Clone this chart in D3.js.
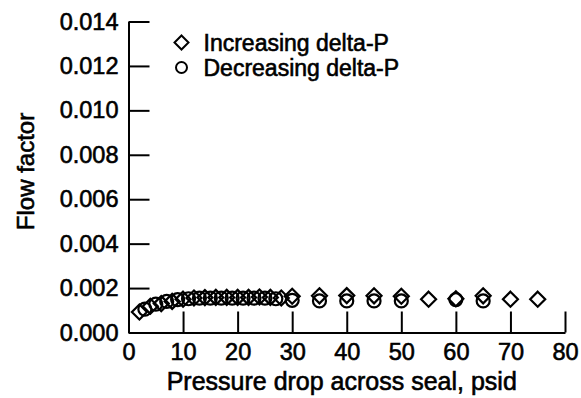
<!DOCTYPE html>
<html>
<head>
<meta charset="utf-8">
<script src="https://cdn.jsdelivr.net/npm/d3@7"></script>
<style>
  body { margin: 0; background: #fff; }
  text { font-family: "Liberation Sans", Arial, sans-serif; fill: #000; stroke: #000; stroke-width: 0.6px; }
</style>
</head>
<body>
<div id="chart"></div>
<script>
// Increasing delta-P (diamonds)
var incX = [2, 4, 6, 8, 10, 12, 14, 16, 18, 20, 22, 24, 26, 28, 30, 35, 40, 45, 50, 55, 60, 65, 70, 75];
var incY = [0.00092, 0.00118, 0.00130, 0.00140, 0.00150, 0.00155, 0.00157, 0.00158, 0.00158, 0.00158, 0.00158, 0.00160, 0.00158, 0.00155, 0.00163, 0.00165, 0.00166, 0.00165, 0.00163, 0.00150, 0.00152, 0.00165, 0.00150, 0.00150];
// Decreasing delta-P (circles)
var decX = [65, 60, 50, 45, 40, 35, 30, 27, 25, 23, 21, 19, 17, 15, 13, 11, 9, 7, 5, 3];
var decY = [0.00142, 0.00148, 0.00142, 0.00142, 0.00142, 0.00142, 0.00145, 0.00152, 0.00155, 0.00155, 0.00155, 0.00155, 0.00155, 0.00155, 0.00155, 0.00152, 0.00148, 0.00140, 0.00128, 0.00105];

var xTicks = [0, 10, 20, 30, 40, 50, 60, 70, 80];
var yTicks = [0, 0.002, 0.004, 0.006, 0.008, 0.010, 0.012, 0.014];

var W = 581, H = 398;
var margin = { top: 21.5, right: 16, bottom: 65.5, left: 128.5 },
    width = W - margin.left - margin.right,
    height = H - margin.top - margin.bottom;

var svg = d3.select('#chart').append('svg')
    .attr('width', W)
    .attr('height', H)
    .append('g')
    .attr('transform', 'translate(' + margin.left + ',' + margin.top + ')');

var x = d3.scaleLinear().domain([0, 80]).range([0, width]);
var y = d3.scaleLinear().domain([0, 0.014]).range([height, 0]);

// Axes, ticks pointing inward
var gx = svg.append('g')
    .attr('transform', 'translate(0,' + height + ')')
    .call(d3.axisBottom(x).tickValues(xTicks).tickSize(-21).tickSizeOuter(0).tickFormat(d3.format('d')));
gx.selectAll('text').attr('y', 11).style('font-size', '23.5px');

var gy = svg.append('g')
    .call(d3.axisLeft(y).tickValues(yTicks).tickSize(-21).tickSizeOuter(0).tickFormat(d3.format('.3f')));
gy.selectAll('text').attr('x', -10).style('font-size', '23.5px');

[gx, gy].forEach(function (g) {
    g.select('.domain').attr('stroke', '#000').attr('stroke-width', 2);
    g.selectAll('.tick line').attr('stroke', '#000').attr('stroke-width', 2);
    g.selectAll('text').attr('fill', '#000').style('font-family', '"Liberation Sans", Arial, sans-serif');
});

// Axis titles
svg.append('text')
    .attr('x', width / 2 - 5)
    .attr('y', height + 57)
    .style('text-anchor', 'middle')
    .style('font-size', '25px')
    .text('Pressure drop across seal, psid');

svg.append('text')
    .attr('transform', 'rotate(-90)')
    .attr('x', -150)
    .attr('y', -95)
    .style('text-anchor', 'middle')
    .style('font-size', '24px')
    .text('Flow factor');

var diamond = 'M0,-7.5L7.5,0L0,7.5L-7.5,0Z';

// Decreasing series
svg.selectAll('.dec')
    .data(decX)
    .enter().append('circle')
    .attr('class', 'dec')
    .attr('r', 6.5)
    .attr('fill', 'none')
    .attr('stroke', '#000')
    .attr('stroke-width', 2.2)
    .attr('cx', function (d) { return x(d); })
    .attr('cy', function (d, i) { return y(decY[i]); });

// Increasing series
svg.selectAll('.inc')
    .data(incX)
    .enter().append('path')
    .attr('class', 'inc')
    .attr('d', diamond)
    .attr('fill', 'none')
    .attr('stroke', '#000')
    .attr('stroke-width', 2.2)
    .attr('transform', function (d, i) { return 'translate(' + x(d) + ',' + y(incY[i]) + ')'; });

// Legend
var legend = svg.append('g').attr('transform', 'translate(53,21)');
legend.append('path')
    .attr('d', 'M0,-7L7,0L0,7L-7,0Z')
    .attr('fill', 'none').attr('stroke', '#000').attr('stroke-width', 2);
legend.append('text').attr('x', 22).attr('y', 8).style('font-size', '23px').text('Increasing delta-P');
legend.append('circle')
    .attr('cy', 25).attr('r', 5.5)
    .attr('fill', 'none').attr('stroke', '#000').attr('stroke-width', 2);
legend.append('text').attr('x', 22).attr('y', 33).style('font-size', '23px').text('Decreasing delta-P');
</script>
</body>
</html>
